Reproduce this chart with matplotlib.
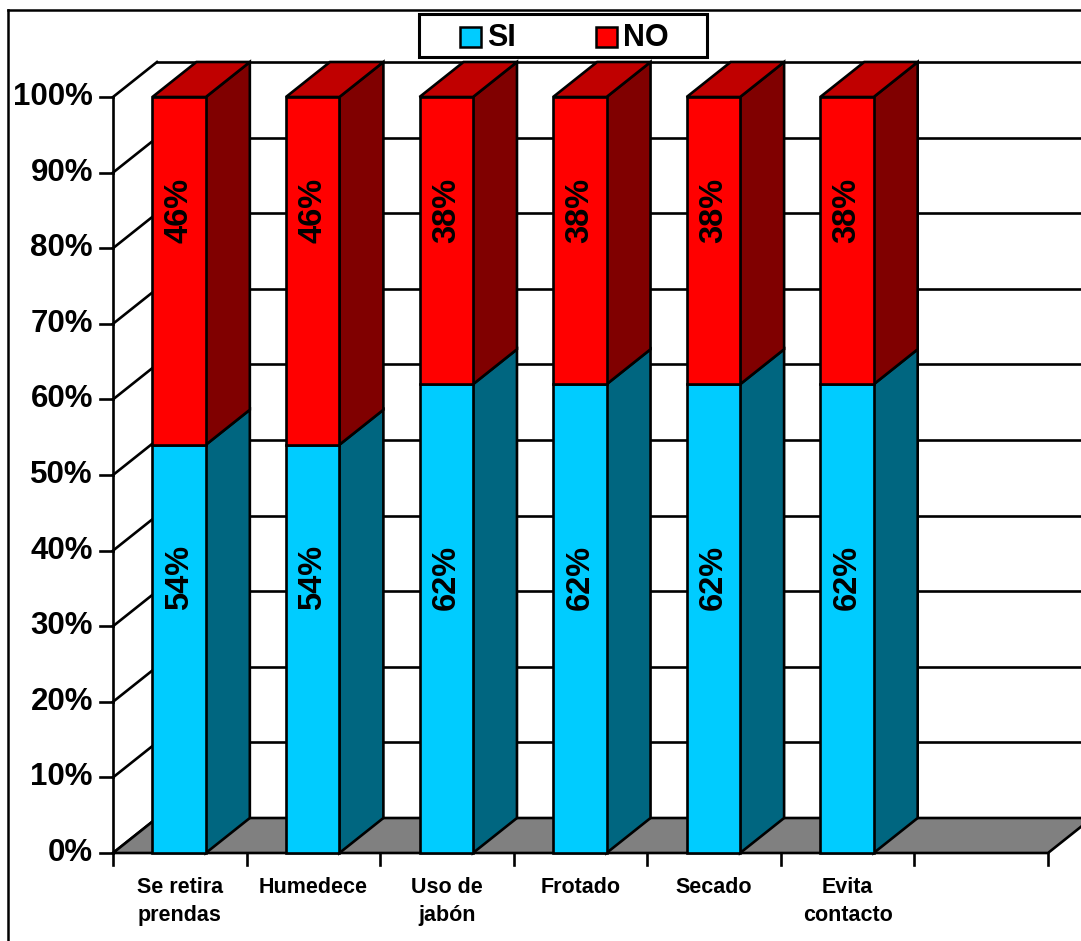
import matplotlib
matplotlib.use("Agg")
import matplotlib.pyplot as plt
from matplotlib.patches import Polygon, Rectangle
from matplotlib.lines import Line2D

plt.rcParams['font.family'] = ['Liberation Sans', 'DejaVu Sans']

# Data
categories = ["Se retira\nprendas", "Humedece", "Uso de\njabón", "Frotado", "Secado", "Evita\ncontacto"]
si_values = [54, 54, 62, 62, 62, 62]
no_values = [46, 46, 38, 38, 38, 38]
y_ticks = [0, 10, 20, 30, 40, 50, 60, 70, 80, 90, 100]

# Colours (front / side / top)
SI_FRONT, SI_SIDE, SI_TOP = "#00CCFF", "#006680", "#00A3CC"
NO_FRONT, NO_SIDE, NO_TOP = "#FF0000", "#800000", "#C00000"
FLOOR = "#808080"

W, H = 1081, 941
# pixel geometry of the front plane
X0_PX, CAT_PX = 113, 133.57
Y0_PX, PCT_PX = H - 853, 7.56
DX = 44 / CAT_PX
DY = 35 / PCT_PX
LW = 1.9
n_slots = len(categories) + 1
bar_w = 0.40
bar_off = 0.295

fig = plt.figure(figsize=(W / 100, H / 100), dpi=100)
ax = fig.add_axes([0, 0, 1, 1])
ax.set_xlim(-X0_PX / CAT_PX, (W - X0_PX) / CAT_PX)
ax.set_ylim(-Y0_PX / PCT_PX, (H - Y0_PX) / PCT_PX)
ax.axis('off')

# walls: back wall gridlines and side wall diagonals
for v in y_ticks:
    ax.plot([DX, n_slots + DX], [v + DY, v + DY], color='black', lw=LW, zorder=1)
    ax.plot([0, DX], [v, v + DY], color='black', lw=LW, zorder=1)
    ax.plot([-0.1, 0], [v, v], color='black', lw=LW, zorder=1)
    ax.text(-0.15, v, f"{v}%", ha='right', va='center', fontsize=22.5, fontweight='bold')

# front vertical axis
ax.plot([0, 0], [0, 100], color='black', lw=LW, zorder=1)

# floor
floor = Polygon([(0, 0), (n_slots, 0), (n_slots + DX, DY), (DX, DY)],
                closed=True, facecolor=FLOOR, edgecolor='black', lw=LW, zorder=2)
ax.add_patch(floor)

# category ticks below the floor
for i in range(n_slots + 1):
    ax.plot([i, i], [0, -1.6], color='black', lw=LW, zorder=2)

for i, cat in enumerate(categories):
    ax.text(i + 0.5, -3.2, cat, ha='center', va='top', fontsize=15.5,
            fontweight='bold', linespacing=1.4)


def draw_segment(x, y0, y1, front, side, top, with_top):
    x1 = x + bar_w
    ax.add_patch(Polygon([(x1, y0), (x1 + DX, y0 + DY), (x1 + DX, y1 + DY), (x1, y1)],
                         closed=True, facecolor=side, edgecolor='black', lw=LW, zorder=3))
    ax.add_patch(Rectangle((x, y0), bar_w, y1 - y0, facecolor=front,
                           edgecolor='black', lw=LW, zorder=4))
    if with_top:
        ax.add_patch(Polygon([(x, y1), (x1, y1), (x1 + DX, y1 + DY), (x + DX, y1 + DY)],
                             closed=True, facecolor=top, edgecolor='black', lw=LW, zorder=3))


for i, (si, no) in enumerate(zip(si_values, no_values)):
    x = i + bar_off
    draw_segment(x, 0, si, SI_FRONT, SI_SIDE, SI_TOP, False)
    draw_segment(x, si, si + no, NO_FRONT, NO_SIDE, NO_TOP, True)
    ax.text(x + bar_w / 2, 36.5, f"{si}%", rotation=90, ha='center', va='center',
            fontsize=23.5, fontweight='bold', zorder=5)
    ax.text(x + bar_w / 2, 85, f"{no}%", rotation=90, ha='center', va='center',
            fontsize=23.5, fontweight='bold', zorder=5)


def fx(px):
    return px / W


def fy(py):
    return 1 - py / H


# outer chart frame (right and bottom edges fall outside the picture)
fig.add_artist(Line2D([fx(8), fx(8)], [fy(10), fy(H + 5)], color='black', lw=1.8))
fig.add_artist(Line2D([fx(8), fx(W + 5)], [fy(10), fy(10)], color='black', lw=1.8))

# legend box
fig.add_artist(Rectangle((fx(419), fy(57)), fx(707) - fx(419), fy(14) - fy(57),
                         transform=fig.transFigure, facecolor='white', edgecolor='black',
                         lw=2.2, zorder=10))
legend_items = [("SI", SI_FRONT, 460, 487), ("NO", NO_FRONT, 596, 623)]
for label, color, sx, tx in legend_items:
    fig.add_artist(Rectangle((fx(sx), fy(47)), fx(21), 20 / H, transform=fig.transFigure,
                             facecolor=color, edgecolor='black', lw=1.8, zorder=11))
    fig.text(fx(tx), fy(37.5), label, ha='left', va='center', fontsize=22,
             fontweight='bold', zorder=11)

fig.savefig("out.png", dpi=100)
